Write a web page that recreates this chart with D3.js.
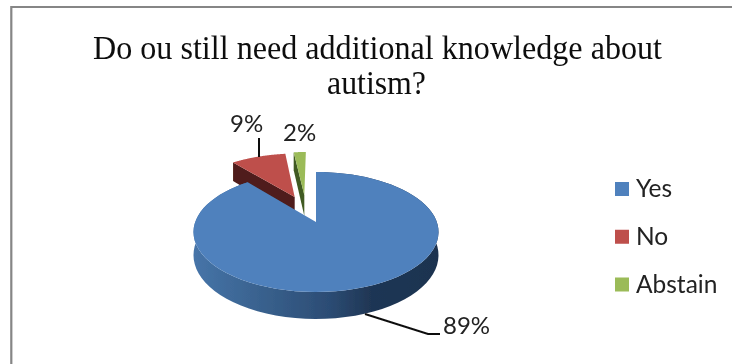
<!DOCTYPE html>
<html><head><meta charset="utf-8">
<script src="https://cdn.jsdelivr.net/npm/d3@7/dist/d3.min.js"></script>
<style>html,body{margin:0;padding:0;background:#fff}svg{display:block}</style>
</head><body><svg id="c" width="732" height="364"></svg>
<script>
const categories = ["Yes", "No", "Abstain"];
const values = [89, 9, 2];
const valueLabels = ["89%", "9%", "2%"];
const titleLines = ["Do ou still need additional knowledge about", "autism?"];
const colors = ["#4F81BD", "#BE4F4C", "#9BBB59"];
const wallColors = ["#2E5078", "#4F1C1A", "#3F5A22"];

const svg = d3.select("#c");
const P = {cx:316, cy:222, R:120.8, A:58.33, k:1/6, D:22.5};
const offsets = [[0,0],[-0.19,-0.46],[-0.105,-0.5]];
const project = (u,v,drop=0)=>{const w=1-P.k*v;return [P.cx+P.R*u/w, P.cy+(P.A*v+drop*P.D)/w];};
const line = d3.line();
const pie = d3.pie().sort(null).value(d=>d)(values);

const defs = svg.append("defs");
const g = defs.append("linearGradient").attr("id","wall").attr("gradientUnits","userSpaceOnUse")
  .attr("x1",194).attr("x2",440).attr("y1",0).attr("y2",0);
[[0,"#4674A8"],[0.25,"#3A6390"],[0.55,"#2C4C74"],[0.72,"#1F3654"],[1,"#1E3350"]]
  .forEach(s=>g.append("stop").attr("offset",s[0]).attr("stop-color",s[1]));
defs.append("filter").attr("id","soft").append("feGaussianBlur").attr("stdDeviation",0.45);

svg.append("path").attr("d","M732,7H11.3V364").attr("fill","none").attr("stroke","#868686").attr("stroke-width",2.2);

const chart = svg.append("g").attr("filter","url(#soft)");
const arcPts=(d,o,drop)=>d3.range(0,81).map(i=>{
  const t=d.startAngle+(d.endAngle-d.startAngle)*i/80;
  return project(o[0]+Math.sin(t),o[1]-Math.cos(t),drop);});

[1,2,0].forEach(i=>{
  const d=pie[i], o=offsets[i];
  if(i===0){
    chart.append("path").attr("fill","url(#wall)")
      .attr("d",line([...arcPts(d,o,0),...arcPts(d,o,1).reverse()])+"Z");
  } else {
    const s=[o[0]+Math.sin(d.startAngle),o[1]-Math.cos(d.startAngle)];
    chart.append("path").attr("fill",wallColors[i])
      .attr("d",line([project(s[0],s[1],0),project(o[0],o[1],0),project(o[0],o[1],1),project(s[0],s[1],1)])+"Z");
  }
  chart.append("path").attr("fill",colors[i])
    .attr("d",line([project(o[0],o[1],0),...arcPts(d,o,0)])+"Z");
});

const leaders=[[[365,314],[428,334],[440,334]],[[259,157],[259,138]]];
leaders.forEach(l=>chart.append("path").attr("d",line(l)).attr("fill","none").attr("stroke","#111").attr("stroke-width",2));

const text = svg.append("g").attr("filter","url(#soft)");
const titleW=[569,99];
titleLines.forEach((t,i)=>{
  text.append("text").attr("x",[377.5,376.5][i]).attr("y",[59,94][i]).attr("text-anchor","middle")
    .attr("font-family","Liberation Serif").attr("font-size",33).attr("fill","#111")
    .attr("textLength",titleW[i]).attr("lengthAdjust","spacingAndGlyphs").text(t);
});
const labelPos=[[443,334],[230,132],[283,141]];
valueLabels.forEach((t,i)=>text.append("text").attr("x",labelPos[i][0]).attr("y",labelPos[i][1])
  .attr("font-family","Lato").attr("font-size",24).attr("fill","#222").text(t));

const legendY=d3.scalePoint().domain(categories).range([189,284.5]);
categories.forEach((c,i)=>{
  text.append("rect").attr("x",615).attr("y",legendY(c)-7).attr("width",14).attr("height",14).attr("fill",colors[i]);
  text.append("text").attr("x",636).attr("y",legendY(c)+8).attr("font-family","Lato").attr("font-size",24.5).attr("fill","#222").text(c);
});
</script></body></html>
